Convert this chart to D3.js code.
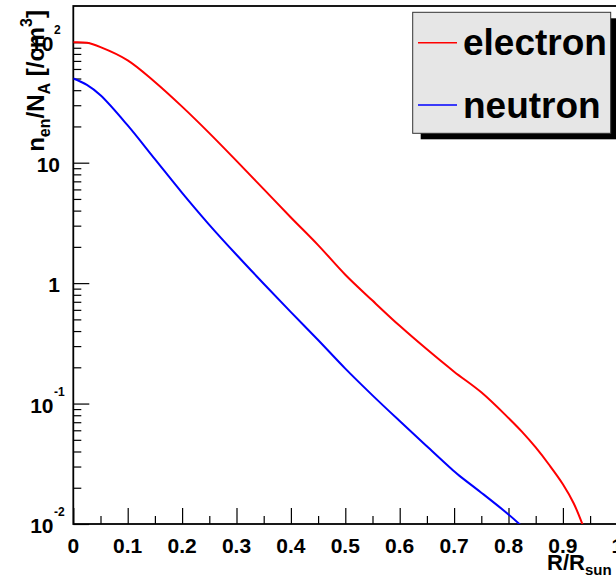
<!DOCTYPE html>
<html>
<head>
<meta charset="utf-8">
<script src="https://cdn.jsdelivr.net/npm/d3@7"></script>
<style>
  body { margin: 0; background: #fff; }
  text { font-family: "Liberation Sans", Arial, Helvetica, sans-serif; font-weight: bold; }
</style>
</head>
<body>
<svg id="chart" width="616" height="579"></svg>
<script>
// radius in units of R_sun, density n/N_A in /cm^3
const electronR = [0, 0.025, 0.05, 0.1, 0.15, 0.2, 0.25, 0.3, 0.35, 0.4, 0.45, 0.5, 0.55, 0.6, 0.65, 0.7, 0.75, 0.8, 0.825, 0.85, 0.875, 0.9, 0.92, 0.94];
const electronN = [100, 99, 91.2, 70.8, 46.8, 29.2, 17.6, 10.35, 6.03, 3.51, 2.07, 1.175, 0.716, 0.442, 0.282, 0.184, 0.124, 0.0759, 0.0582, 0.0432, 0.0309, 0.0214, 0.0148, 0.0089];

const neutronR = [0, 0.025, 0.05, 0.1, 0.15, 0.2, 0.25, 0.3, 0.35, 0.4, 0.45, 0.5, 0.55, 0.6, 0.65, 0.7, 0.71, 0.75, 0.8, 0.83];
const neutronN = [50, 44.2, 36.3, 20.4, 10.7, 5.62, 3.05, 1.72, 0.989, 0.575, 0.337, 0.195, 0.117, 0.0716, 0.0442, 0.0274, 0.0251, 0.0182, 0.012, 0.0091];

const xTicks = [0, 0.1, 0.2, 0.3, 0.4, 0.5, 0.6, 0.7, 0.8, 0.9, 1];
const xTickLabels = ["0", "0.1", "0.2", "0.3", "0.4", "0.5", "0.6", "0.7", "0.8", "0.9", "1"];
const yTicks = [0.01, 0.1, 1, 10, 100];
const yTickBase = ["10", "10", "1", "10", "10"];
const yTickExp = ["-2", "-1", "", "", "2"];

const seriesNames = ["electron", "neutron"];
const seriesColors = ["#ff0000", "#0000ff"];

const svg = d3.select("#chart");
const pLeft = 73.3, pRight = 617.3, pTop = 6, pBottom = 524;

const x = d3.scaleLinear().domain([0, 1]).range([pLeft, pRight]);
const y = d3.scaleLog().domain([0.01, 200]).range([pBottom, pTop]);

svg.append("defs").append("clipPath").attr("id", "clip")
  .append("rect").attr("x", pLeft).attr("y", pTop)
  .attr("width", pRight - pLeft).attr("height", pBottom - pTop);

// minor ticks
const xMinor = d3.range(0.05, 1, 0.1);
const yMinor = [];
yTicks.forEach(d => {
  for (let k = 2; k <= 9; k++) if (d * k < 200) yMinor.push(d * k);
});

const gx = svg.append("g").attr("transform", `translate(0,${pBottom})`);
gx.call(d3.axisBottom(x).tickValues(xTicks).tickSize(-16).tickFormat(""));
gx.append("g").call(d3.axisBottom(x).tickValues(xMinor).tickSize(-8).tickFormat(""));

const gy = svg.append("g").attr("transform", `translate(${pLeft},0)`);
gy.call(d3.axisLeft(y).tickValues(yTicks).tickSize(-16).tickFormat(""));
gy.append("g").call(d3.axisLeft(y).tickValues(yMinor).tickSize(-8).tickFormat(""));

svg.selectAll(".domain").remove();
svg.selectAll(".tick line").attr("stroke", "#000").attr("stroke-width", 1.2);

// frame
svg.append("rect")
  .attr("x", pLeft).attr("y", pTop)
  .attr("width", pRight - pLeft).attr("height", pBottom - pTop)
  .attr("fill", "none").attr("stroke", "#000").attr("stroke-width", 1.8);

// x labels
svg.selectAll(".xlab").data(xTicks).enter().append("text")
  .attr("x", d => x(d)).attr("y", 553)
  .attr("text-anchor", "middle").attr("font-size", 21)
  .text((d, i) => xTickLabels[i]);

// y labels
yTicks.forEach((d, i) => {
  const yy = y(d) + 9;
  if (yTickExp[i]) {
    svg.append("text").attr("x", 53.5).attr("y", yy)
      .attr("text-anchor", "end").attr("font-size", 21).text(yTickBase[i]);
    svg.append("text").attr("x", 54).attr("y", y(d) - 8)
      .attr("font-size", 12).text(yTickExp[i]);
  } else {
    svg.append("text").attr("x", 60).attr("y", yy)
      .attr("text-anchor", "end").attr("font-size", 21).text(yTickBase[i]);
  }
});

// x title (runs past the right edge, as in the original)
const xt = svg.append("text").attr("x", 547).attr("y", 570)
  .attr("font-size", 22);
xt.append("tspan").text("R/R");
xt.append("tspan").attr("font-size", 15).attr("dy", 5).text("sun");

// y title
const yt = svg.append("text")
  .attr("transform", "translate(44,10) rotate(-90)")
  .attr("text-anchor", "end").attr("font-size", 24);
yt.append("tspan").text("n");
yt.append("tspan").attr("font-size", 16).attr("dy", 6).text("en");
yt.append("tspan").attr("dy", -6).text("/N");
yt.append("tspan").attr("font-size", 16).attr("dy", 6).text("A");
yt.append("tspan").attr("dy", -6).text(" [/cm");
yt.append("tspan").attr("font-size", 16).attr("dy", -12).text("3");
yt.append("tspan").attr("dy", 12).text("]");

// curves
const line = d3.line()
  .x(d => x(d[0])).y(d => y(d[1]))
  .curve(d3.curveCatmullRom.alpha(0.5));

const series = [
  d3.zip(electronR, electronN),
  d3.zip(neutronR, neutronN)
];

svg.append("g").attr("clip-path", "url(#clip)")
  .selectAll("path").data(series).enter().append("path")
  .attr("d", line)
  .attr("fill", "none")
  .attr("stroke", (d, i) => seriesColors[i])
  .attr("stroke-width", 2);

// legend
const lx = 412.7, ly = 12.3, lw = 198, lh = 121;
svg.append("rect").attr("x", lx + 8).attr("y", ly + 6)
  .attr("width", lw).attr("height", lh).attr("fill", "#000");
svg.append("rect").attr("x", lx).attr("y", ly)
  .attr("width", lw).attr("height", lh)
  .attr("fill", "#e6e6e6").attr("stroke", "#333").attr("stroke-width", 1);

const legendY = [42.7, 105];
seriesNames.forEach((name, i) => {
  svg.append("line")
    .attr("x1", 418).attr("x2", 457)
    .attr("y1", legendY[i]).attr("y2", legendY[i])
    .attr("stroke", seriesColors[i]).attr("stroke-width", 1.5);
  svg.append("text").attr("x", 463).attr("y", legendY[i] + 12.5)
    .attr("font-size", 37).text(name);
});
</script>
</body>
</html>
